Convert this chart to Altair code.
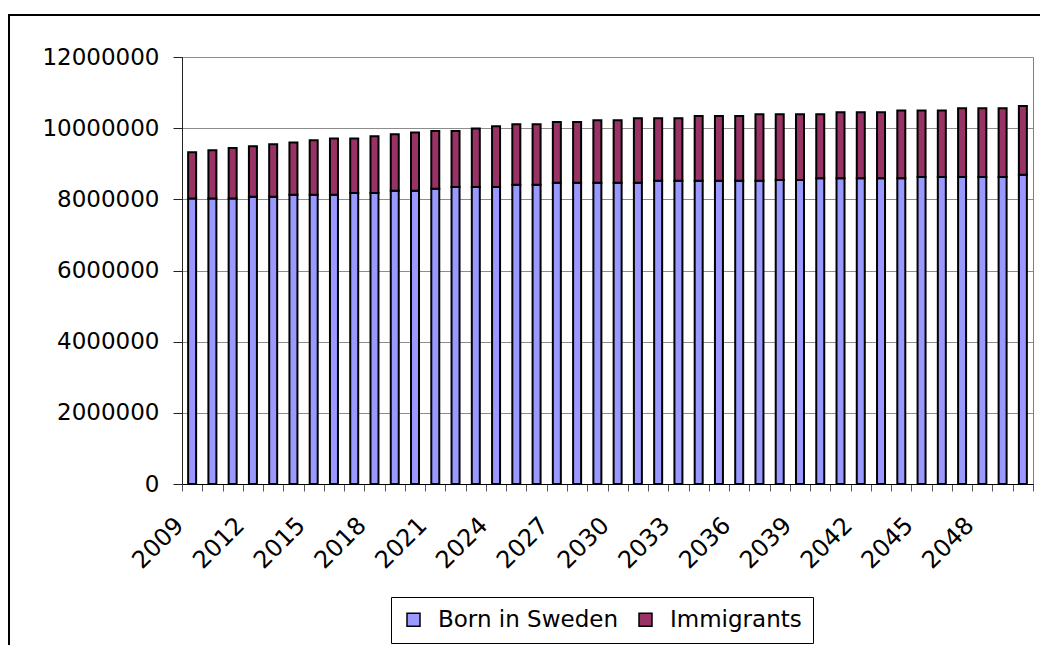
import altair as alt
import pandas as pd

# Projected population of Sweden, 2009-2050
years = list(range(2009, 2051))

born_in_sweden = [
    8020000, 8020000, 8020000, 8070000, 8070000, 8130000, 8130000, 8130000,
    8180000, 8180000, 8240000, 8240000, 8300000, 8350000, 8350000, 8350000,
    8410000, 8410000, 8465000, 8465000, 8465000, 8465000, 8465000, 8520000,
    8520000, 8520000, 8520000, 8520000, 8520000, 8540000, 8540000, 8590000,
    8590000, 8590000, 8590000, 8590000, 8630000, 8630000, 8630000, 8630000,
    8630000, 8690000,
]

immigrants = [
    1300000, 1360000, 1420000, 1420000, 1480000, 1470000, 1530000, 1580000,
    1530000, 1595000, 1590000, 1640000, 1620000, 1570000, 1640000, 1705000,
    1700000, 1700000, 1705000, 1705000, 1755000, 1755000, 1815000, 1760000,
    1760000, 1820000, 1820000, 1820000, 1870000, 1850000, 1850000, 1800000,
    1860000, 1860000, 1860000, 1910000, 1870000, 1870000, 1930000, 1930000,
    1930000, 1930000,
]

series_names = ["Born in Sweden", "Immigrants"]
series_colors = ["#9999FF", "#993366"]
y_ticks = [0, 2000000, 4000000, 6000000, 8000000, 10000000, 12000000]

rows = []
for i, yr in enumerate(years):
    rows.append({"year": yr, "group": series_names[0], "value": born_in_sweden[i], "rank": 0})
    rows.append({"year": yr, "group": series_names[1], "value": immigrants[i], "rank": 1})
df = pd.DataFrame(rows)

FONT = "DejaVu Sans"
FS = 23

bars = alt.Chart(df).mark_bar(size=8, stroke="black", strokeWidth=2).encode(
    x=alt.X(
        "year:O",
        scale=alt.Scale(paddingInner=0, paddingOuter=0),
        axis=alt.Axis(
            title=None,
            labelAngle=-45,
            labelAlign="right",
            labelBaseline="top",
            labelExpr="datum.value % 3 == 2 ? datum.label : ''",
            labelOverlap=False,
            tickBand="extent",
            tickSize=7,
            tickColor="#555555",
            domainColor="black",
            domainWidth=1,
            labelFont=FONT,
            labelFontSize=24,
            labelColor="black",
            labelPadding=22,
            labelOffset=-21,
            grid=False,
        ),
    ),
    y=alt.Y(
        "value:Q",
        stack="zero",
        scale=alt.Scale(domain=[0, 12000000], nice=False),
        axis=alt.Axis(
            title=None,
            values=y_ticks,
            format="d",
            tickSize=9,
            tickColor="#222222",
            domainColor="#222222",
            gridColor="#8c8c8c",
            gridWidth=1,
            labelFont=FONT,
            labelFontSize=FS,
            labelColor="black",
            labelPadding=14,
        ),
    ),
    color=alt.Color(
        "group:N",
        scale=alt.Scale(domain=series_names, range=series_colors),
        legend=alt.Legend(
            title=None,
            orient="none",
            legendX=209,
            legendY=540,
            direction="horizontal",
            symbolType="square",
            symbolSize=169,
            symbolStrokeColor="black",
            symbolStrokeWidth=1.5,
            symbolOpacity=1,
            labelFont=FONT,
            labelFontSize=FS,
            labelColor="black",
            labelLimit=0,
            labelOffset=13,
            columnPadding=16,
            padding=11,
            strokeColor="black",
            fillColor="white",
        ),
    ),
    order=alt.Order("rank:Q"),
)

# outer frame around the whole figure
frame = alt.Chart(pd.DataFrame({"k": [0]})).mark_rect(
    fill="transparent", stroke="black", strokeWidth=2
).encode(
    x=alt.value(-173), x2=alt.value(900), y=alt.value(-42), y2=alt.value(700)
)

chart = (
    alt.layer(frame, bars)
    .properties(
        width=851,
        height=427,
        autosize=alt.AutoSizeParams(type="none"),
        padding={"left": 182, "top": 57, "right": 7, "bottom": 161},
        background="white",
    )
    .configure_view(stroke="#808080", strokeWidth=1)
)

chart.save("out.html", embed_options={"renderer": "svg", "actions": False})
